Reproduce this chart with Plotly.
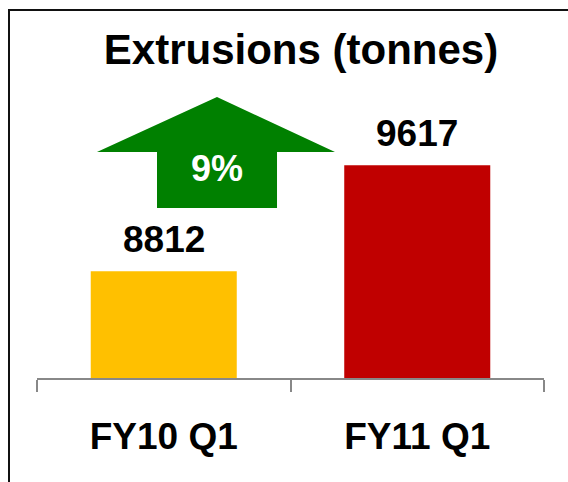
import plotly.graph_objects as go

# Quarterly extrusion volumes
quarters = ["FY10 Q1", "FY11 Q1"]
tonnes = [8812, 9617]
bar_colors = ["#FFC000", "#C00000"]
growth_label = "9%"

FONT = "Liberation Sans, Arial, sans-serif"

W, H = 568, 482
L, R, T, B = 37, 24, 115, 104
pw, ph = W - L - R, H - T - B


def px(x):
    return (x - L) / pw


def py(y):
    return (H - B - y) / ph


fig = go.Figure()
fig.add_trace(go.Bar(
    x=quarters,
    y=tonnes,
    marker=dict(color=bar_colors, line=dict(width=0)),
    width=0.576,
    hoverinfo="skip",
))

# green up-arrow with the growth figure
arrow_pts = [(97, 152), (217, 97), (335, 152), (277, 152), (277, 208), (157, 208), (157, 152)]
path = "M " + " L ".join(f"{px(x):.4f},{py(y):.4f}" for x, y in arrow_pts) + " Z"

shapes = [
    dict(type="path", xref="paper", yref="paper", path=path,
         fillcolor="#008000", line=dict(width=0)),
    # outer frame
    dict(type="rect", xref="paper", yref="paper",
         x0=px(9), x1=px(575), y0=py(490), y1=py(10),
         line=dict(color="#111111", width=2), fillcolor="rgba(0,0,0,0)", layer="above"),
]

# value labels above each bar
annotations = [
    dict(x=q, y=v, xref="x", yref="y", text=str(v), showarrow=False,
         xanchor="center", yanchor="bottom", yshift=9,
         font=dict(family=FONT, size=37, color="black", weight="bold"))
    for q, v in zip(quarters, tonnes)
]
annotations.append(
    dict(xref="paper", yref="paper", x=px(217), y=py(168), text=growth_label,
         showarrow=False, xanchor="center", yanchor="middle",
         font=dict(family=FONT, size=36, color="white", weight="bold"))
)

fig.update_layout(
    width=W, height=H,
    margin=dict(l=L, r=R, t=T, b=B, pad=0),
    paper_bgcolor="white", plot_bgcolor="white",
    showlegend=False,
    title=dict(text="Extrusions (tonnes)", x=301 / W, xref="container", xanchor="center",
               y=1 - 49 / H, yref="container", yanchor="middle",
               font=dict(family=FONT, size=42, color="black", weight="bold")),
    shapes=shapes,
    annotations=annotations,
    xaxis=dict(range=[-0.5, 1.5], showline=True, linecolor="#888888", linewidth=2,
               ticks="outside", tickson="boundaries", ticklen=12, tickwidth=2, tickcolor="#888888",
               tickfont=dict(family=FONT, size=37, color="black", weight="bold"),
               ticklabelstandoff=25, showgrid=False, zeroline=False, fixedrange=True),
    yaxis=dict(range=[8000, 10000], visible=False, showgrid=False, zeroline=False),
)

fig.write_html("out.html")
